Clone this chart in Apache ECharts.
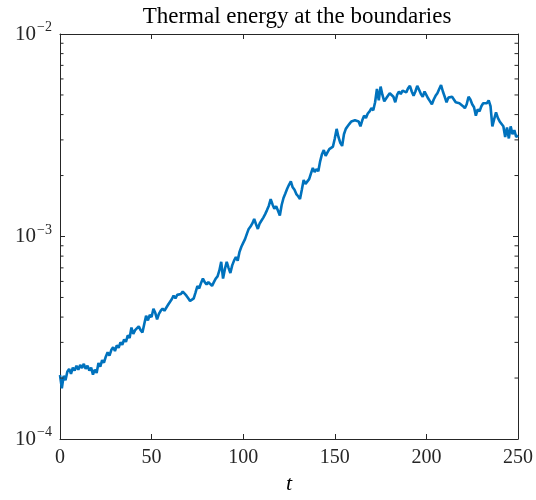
<!DOCTYPE html>
<html><head><meta charset="utf-8">
<script src="https://cdn.jsdelivr.net/npm/echarts@6/dist/echarts.min.js"></script>
<style>html,body{margin:0;padding:0;background:#fff}#c{width:536px;height:500px}</style>
</head><body><div id="c"></div>
<script>
const titleText = 'Thermal energy at the boundaries';
const xTicks = [0, 50, 100, 150, 200, 250];
const yMajor = [1e-4, 1e-3, 1e-2];
const yMinor = [2e-4,3e-4,4e-4,5e-4,6e-4,7e-4,8e-4,9e-4,2e-3,3e-3,4e-3,5e-3,6e-3,7e-3,8e-3,9e-3];
// thermal energy sampled at t = 0,1,2,...,250
const energy = [
2.07e-4,1.78e-4,2.05e-4,1.95e-4,2.15e-4,2.22e-4,2.10e-4,2.25e-4,2.18e-4,2.30e-4,
2.20e-4,2.32e-4,2.24e-4,2.35e-4,2.22e-4,2.30e-4,2.18e-4,2.25e-4,2.08e-4,2.20e-4,
2.12e-4,2.37e-4,2.28e-4,2.45e-4,2.38e-4,2.55e-4,2.68e-4,2.58e-4,2.75e-4,2.84e-4,
2.72e-4,2.90e-4,2.82e-4,3.00e-4,2.92e-4,3.10e-4,3.02e-4,3.25e-4,3.15e-4,3.55e-4,
3.30e-4,3.45e-4,3.38e-4,3.60e-4,3.45e-4,3.36e-4,3.70e-4,4.06e-4,3.85e-4,4.10e-4,
4.00e-4,4.40e-4,4.20e-4,3.90e-4,4.15e-4,4.30e-4,4.40e-4,4.30e-4,4.45e-4,4.60e-4,
4.75e-4,4.90e-4,5.10e-4,4.95e-4,5.15e-4,5.25e-4,5.20e-4,5.35e-4,5.25e-4,5.10e-4,
4.95e-4,4.80e-4,4.70e-4,4.95e-4,5.30e-4,5.68e-4,5.55e-4,5.90e-4,6.20e-4,5.95e-4,
5.80e-4,5.95e-4,5.85e-4,5.70e-4,5.95e-4,6.20e-4,6.35e-4,6.80e-4,7.50e-4,6.20e-4,
6.90e-4,7.50e-4,7.00e-4,6.60e-4,7.20e-4,7.60e-4,7.90e-4,7.60e-4,8.40e-4,8.90e-4,
9.30e-4,9.70e-4,10.3e-4,10.9e-4,11.2e-4,11.6e-4,12.2e-4,11.5e-4,10.9e-4,11.6e-4,
12.0e-4,12.4e-4,12.9e-4,13.5e-4,14.2e-4,15.3e-4,14.4e-4,13.7e-4,14.1e-4,13.4e-4,
12.7e-4,14.3e-4,15.5e-4,16.3e-4,17.2e-4,18.0e-4,18.7e-4,17.5e-4,17.0e-4,16.2e-4,
15.8e-4,15.3e-4,17.0e-4,19.0e-4,18.2e-4,18.0e-4,19.2e-4,20.5e-4,21.8e-4,20.8e-4,
21.5e-4,21.0e-4,23.5e-4,25.5e-4,26.7e-4,25.0e-4,26.0e-4,27.0e-4,26.5e-4,27.8e-4,
30.5e-4,34.0e-4,31.0e-4,29.0e-4,28.0e-4,32.0e-4,34.0e-4,35.0e-4,36.0e-4,37.0e-4,
36.5e-4,37.5e-4,38.0e-4,37.0e-4,35.0e-4,37.5e-4,39.5e-4,38.5e-4,40.5e-4,41.5e-4,
43.0e-4,42.0e-4,46.0e-4,53.5e-4,47.0e-4,55.0e-4,50.0e-4,46.5e-4,48.0e-4,49.5e-4,
51.0e-4,52.0e-4,49.0e-4,46.0e-4,50.0e-4,52.0e-4,50.5e-4,52.5e-4,53.5e-4,51.5e-4,
54.0e-4,55.5e-4,52.0e-4,49.5e-4,52.0e-4,55.5e-4,53.0e-4,50.5e-4,49.0e-4,52.0e-4,
51.0e-4,48.0e-4,46.5e-4,45.0e-4,47.5e-4,49.5e-4,51.0e-4,53.5e-4,56.0e-4,52.0e-4,
49.0e-4,46.0e-4,48.5e-4,48.0e-4,49.0e-4,47.5e-4,46.0e-4,47.0e-4,45.5e-4,46.5e-4,
44.0e-4,43.0e-4,45.0e-4,49.0e-4,47.5e-4,45.0e-4,43.5e-4,39.5e-4,42.5e-4,41.5e-4,
44.0e-4,45.5e-4,44.5e-4,45.5e-4,47.0e-4,44.0e-4,35.0e-4,38.0e-4,41.0e-4,38.5e-4,
37.0e-4,36.5e-4,35.0e-4,31.0e-4,34.5e-4,30.5e-4,35.0e-4,32.0e-4,33.5e-4,31.0e-4,
31.5e-4
];
const tStep = 1;
const lineData = energy.map((v, i) => [i * tStep, v]);

const axisColor = '#262626';
const serif = '"Liberation Serif","Times New Roman",serif';

const chart = echarts.init(document.getElementById('c'), null, {renderer: 'canvas'});
const yLabelFmt = v => {
  const e = Math.round(Math.log10(v));
  return '{a|10}{b|' + (e < 0 ? '\u2212' : '') + Math.abs(e) + '}';
};
const common = {
  axisLine: {show: true, onZero: false, lineStyle: {color: axisColor, width: 1}},
  axisTick: {show: true, inside: true, length: 5, lineStyle: {color: axisColor, width: 1}},
  splitLine: {show: false}
};
chart.setOption({
  animation: false,
  backgroundColor: '#fff',
  title: {text: titleText, left: 292, textAlign: 'center', top: 0,
    textStyle: {fontFamily: serif, fontWeight: 'normal', fontSize: 23, color: '#000'}},
  grid: {left: 60, right: 15, top: 34, bottom: 54},
  xAxis: [
    Object.assign({type: 'value', position: 'bottom', min: 0, max: 250, interval: 50,
      name: 't', nameLocation: 'middle', nameGap: 34,
      nameTextStyle: {fontFamily: serif, fontStyle: 'italic', fontSize: 22, color: '#000'},
      axisLabel: {fontFamily: serif, fontSize: 20, color: '#262626', margin: 9}}, common),
    Object.assign({type: 'value', position: 'top', min: 0, max: 250, interval: 50,
      axisLabel: {show: false}}, common)
  ],
  yAxis: [
    Object.assign({type: 'log', logBase: 10, position: 'left', min: 1e-4, max: 1e-2, interval: 1,
      axisLabel: {formatter: yLabelFmt, margin: 8, color: '#262626',
        rich: {a: {fontFamily: serif, fontSize: 21, color: '#262626'},
               b: {fontFamily: serif, fontSize: 14, color: '#262626', padding: [0, 0, 13, 1]}}}}, common),
    Object.assign({type: 'log', logBase: 10, position: 'right', min: 1e-4, max: 1e-2, interval: 1,
      axisLabel: {show: false}}, common)
  ],
  series: [
    {type: 'line', xAxisIndex: 0, yAxisIndex: 0, data: lineData, showSymbol: false,
     lineStyle: {color: '#0072BD', width: 2.6}, z: 3},
    {type: 'custom', xAxisIndex: 0, yAxisIndex: 0, silent: true, clip: false, z: 4,
     data: yMinor.map(v => [0, v]),
     renderItem: (params, api) => {
       const cs = params.coordSys;
       const y = api.coord([0, api.value(1)])[1];
       const st = {stroke: axisColor, lineWidth: 1};
       return {type: 'group', children: [
         {type: 'line', shape: {x1: cs.x, y1: y, x2: cs.x + 3.5, y2: y}, style: st},
         {type: 'line', shape: {x1: cs.x + cs.width, y1: y, x2: cs.x + cs.width - 3.5, y2: y}, style: st}
       ]};
     }}
  ]
});
</script></body></html>
